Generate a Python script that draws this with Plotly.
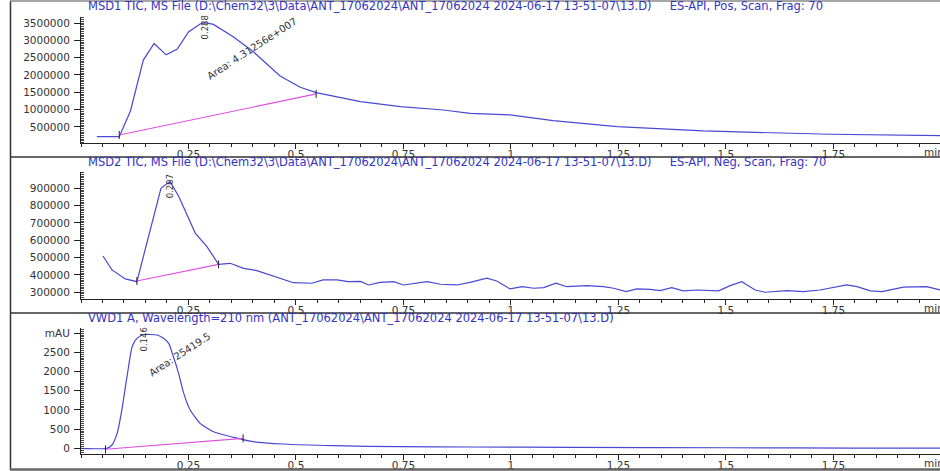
import plotly.graph_objects as go

# ---------------- data ----------------
# MSD1 TIC (positive)
msd1_t = [0.037, 0.089, 0.115, 0.145, 0.170, 0.198, 0.224, 0.250, 0.277, 0.288, 0.308, 0.354,
          0.401, 0.430, 0.463, 0.510, 0.547, 0.587, 0.650, 0.743, 0.843, 0.905, 0.998, 1.098,
          1.247, 1.447, 1.600, 1.743, 1.998]
msd1_v = [220000, 220000, 962000, 2430000, 2910000, 2580000, 2750000, 3240000, 3470000, 3510000,
          3460000, 3100000, 2670000, 2350000, 1970000, 1645000, 1490000, 1390000, 1230000, 1090000,
          990000, 895000, 850000, 682000, 510000, 385000, 340000, 290000, 250000]
msd1_base_t = [0.089, 0.547]
msd1_base_v = [269000, 1455000]

# MSD2 TIC (negative)
msd2_t = [0.051, 0.072, 0.103, 0.130, 0.186, 0.207, 0.228, 0.266, 0.293, 0.320, 0.347, 0.378,
          0.409, 0.456, 0.494, 0.537, 0.563, 0.595, 0.622, 0.650, 0.669, 0.696, 0.727, 0.750,
          0.781, 0.805, 0.836, 0.874, 0.905, 0.944, 0.967, 0.998, 1.026, 1.053, 1.076, 1.105,
          1.130, 1.177, 1.215, 1.239, 1.268, 1.293, 1.324, 1.347, 1.374, 1.401, 1.433, 1.483,
          1.510, 1.537, 1.568, 1.591, 1.642, 1.680, 1.719, 1.750, 1.781, 1.805, 1.836, 1.863,
          1.890, 1.913, 1.967, 1.998]
msd2_v = [509000, 429000, 377000, 361000, 900000, 940000, 850000, 640000, 563000, 461000, 467000,
          438000, 425000, 387000, 355000, 352000, 371000, 371000, 361000, 363000, 342000, 357000,
          361000, 342000, 355000, 361000, 346000, 342000, 357000, 381000, 365000, 319000, 332000,
          323000, 327000, 352000, 332000, 338000, 332000, 323000, 304000, 319000, 317000, 309000,
          327000, 308000, 313000, 308000, 338000, 361000, 313000, 300000, 309000, 304000, 313000,
          329000, 342000, 332000, 308000, 304000, 319000, 329000, 332000, 313000]
msd2_base_t = [0.130, 0.320]
msd2_base_v = [365000, 461000]

# VWD1 A, 210 nm
vwd_t = [0.0, 0.060, 0.072, 0.084, 0.095, 0.107, 0.119, 0.130, 0.146, 0.177, 0.192, 0.204, 0.215,
         0.227, 0.239, 0.254, 0.277, 0.308, 0.355, 0.401, 0.471, 0.587, 0.743, 0.905, 1.140,
         1.500, 1.800, 1.998]
vwd_v = [0, 0, 86, 390, 997, 1865, 2646, 2864, 2958, 2950, 2864, 2734, 2385, 1953, 1432, 997, 651,
         432, 286, 172, 112, 68, 42, 34, 26, 15, 5, 5]
vwd_base_t = [0.057, 0.377]
vwd_base_v = [-26, 260]

rt_labels = [0.288, 0.207, 0.146]
area_labels = ["Area: 4.31256e+007", None, "Area: 25419.5"]

titles = [
    "MSD1 TIC, MS File (D:\\Chem32\\3\\Data\\ANT_17062024\\ANT_17062024 2024-06-17 13-51-07\\13.D)"
    + "\u00a0" * 5 + "ES-API, Pos, Scan, Frag: 70",
    "MSD2 TIC, MS File (D:\\Chem32\\3\\Data\\ANT_17062024\\ANT_17062024 2024-06-17 13-51-07\\13.D)"
    + "\u00a0" * 5 + "ES-API, Neg, Scan, Frag: 70",
    "VWD1 A, Wavelength=210 nm (ANT_17062024\\ANT_17062024 2024-06-17 13-51-07\\13.D)",
]

x_tickvals = [0.25, 0.5, 0.75, 1.0, 1.25, 1.5, 1.75]
x_ticktext = ["0.25", "0.5", "0.75", "1", "1.25", "1.5", "1.75"]

y1_ticks = [500000, 1000000, 1500000, 2000000, 2500000, 3000000, 3500000]
y2_ticks = [300000, 400000, 500000, 600000, 700000, 800000, 900000]
y3_ticks = [0, 500, 1000, 1500, 2000, 2500, 3000]
y3_text = ["0", "500", "1000", "1500", "2000", "2500", "mAU"]

# ---------------- styling ----------------
W, H = 940, 471
LINE = "#4848d4"
BASE = "#e050e0"
TXT = "#333333"
TITLE_C = "#3434c4"
FONT = "DejaVu Sans"

def py(p):  # pixel row -> paper fraction
    return 1 - p / H

def px(p):
    return p / W

panels = [
    dict(t=msd1_t, v=msd1_v, bt=msd1_base_t, bv=msd1_base_v, top=17, bot=143, shape="linear",
         yr=[38000, 3673000], yt=y1_ticks, ytt=[str(v) for v in y1_ticks], ydm=50000, title_y=6),
    dict(t=msd2_t, v=msd2_v, bt=msd2_base_t, bv=msd2_base_v, top=172, bot=299, shape="linear",
         yr=[261000, 994000], yt=y2_ticks, ytt=[str(v) for v in y2_ticks], ydm=10000, title_y=162),
    dict(t=vwd_t, v=vwd_v, bt=vwd_base_t, bv=vwd_base_v, top=328, bot=454, shape="spline",
         yr=[-148, 3133], yt=y3_ticks, ytt=y3_text, ydm=50, title_y=318),
]

fig = go.Figure()
layout = dict(template="none", width=W, height=H, margin=dict(l=0, r=0, t=0, b=0, pad=0),
              paper_bgcolor="white", plot_bgcolor="white", showlegend=False,
              font=dict(family=FONT, size=10.5, color=TXT))
annotations = []
shapes = []

for i, p in enumerate(panels):
    n = "" if i == 0 else str(i + 1)
    xa, ya = "x" + n, "y" + n
    fig.add_trace(go.Scatter(x=p["t"], y=p["v"], mode="lines", xaxis=xa, yaxis=ya,
                             line=dict(color=LINE, width=1.2, shape=p["shape"], smoothing=0.6),
                             hoverinfo="skip"))
    fig.add_trace(go.Scatter(x=p["bt"], y=p["bv"], mode="lines", xaxis=xa, yaxis=ya,
                             line=dict(color=BASE, width=1.1), hoverinfo="skip"))
    # integration marks at baseline ends
    for bx, bv in zip(p["bt"], p["bv"]):
        shapes.append(dict(type="line", xref=xa, yref=ya, xsizemode="scaled", ysizemode="pixel",
                           yanchor=bv, x0=bx, x1=bx, y0=-4, y1=4,
                           line=dict(color="#222222", width=1)))
    layout["xaxis" + n] = dict(
        domain=[px(81), 1], range=[0, 1.998], anchor=ya, automargin=False,
        tickmode="array", tickvals=x_tickvals, ticktext=x_ticktext,
        ticks="outside", ticklen=5, tickcolor="#222", tickwidth=1, ticklabelstandoff=-4,
        minor=dict(tickmode="linear", tick0=0, dtick=0.05, ticks="outside", ticklen=3,
                   tickcolor="#222", tickwidth=1),
        showline=True, linecolor="#222", linewidth=1, showgrid=False, zeroline=False,
        tickfont=dict(family=FONT, size=10.5, color=TXT), fixedrange=True)
    layout["yaxis" + n] = dict(
        domain=[py(p["bot"]), py(p["top"])], range=p["yr"], anchor=xa, automargin=False,
        tickmode="array", tickvals=p["yt"], ticktext=p["ytt"],
        ticks="outside", ticklen=6, tickcolor="#222", tickwidth=1, ticklabelstandoff=2,
        minor=dict(tickmode="linear", tick0=0, dtick=p["ydm"], ticks="inside", ticklen=3,
                   tickcolor="#444", tickwidth=1),
        showline=True, linecolor="#222", linewidth=1, showgrid=False, zeroline=False,
        tickfont=dict(family=FONT, size=10.5, color=TXT), fixedrange=True)
    # panel title
    annotations.append(dict(text=titles[i], xref="paper", yref="paper", x=px(86), y=py(p["title_y"]),
                            xanchor="left", yanchor="middle", showarrow=False,
                            font=dict(family=FONT, size=11.5, color=TITLE_C)))
    # "min" unit label (cut off at the right edge)
    annotations.append(dict(text="min", xref="paper", yref="paper", x=px(922), y=py(p["bot"] + 9),
                            xanchor="left", yanchor="middle", showarrow=False,
                            font=dict(family=FONT, size=10.5, color=TXT)))
    # retention time label
    rt = rt_labels[i]
    k = min(range(len(p["t"])), key=lambda j: abs(p["t"][j] - rt))
    annotations.append(dict(text=f"{rt:.3f}", xref=xa, yref=ya, x=rt, y=p["v"][k],
                            xanchor="center", yanchor="middle", yshift=-5, textangle=-90,
                            showarrow=False, font=dict(family=FONT, size=8.5, color=TXT)))

# area labels
annotations.append(dict(text=area_labels[0], xref="x", yref="y", x=0.398, y=2750000,
                        textangle=-33, showarrow=False, font=dict(family=FONT, size=10, color=TXT)))
annotations.append(dict(text=area_labels[2], xref="x3", yref="y3", x=0.229, y=2456,
                        textangle=-33, showarrow=False, font=dict(family=FONT, size=10, color=TXT)))

# frame and separators
FR = "#333333"
shapes += [
    dict(type="line", xref="paper", yref="paper", x0=px(10), x1=1, y0=py(157), y1=py(157),
         line=dict(color=FR, width=1.5)),
    dict(type="line", xref="paper", yref="paper", x0=px(10), x1=1, y0=py(313), y1=py(313),
         line=dict(color=FR, width=1.5)),
    dict(type="line", xref="paper", yref="paper", x0=px(10.5), x1=px(10.5), y0=py(1), y1=py(470),
         line=dict(color=FR, width=1.5)),
    dict(type="line", xref="paper", yref="paper", x0=px(10), x1=1, y0=py(469.5), y1=py(469.5),
         line=dict(color="#666666", width=2.5)),
    dict(type="line", xref="paper", yref="paper", x0=px(10), x1=1, y0=py(1), y1=py(1),
         line=dict(color="#888888", width=1.5)),
]

layout["annotations"] = annotations
layout["shapes"] = shapes
fig.update_layout(**layout)
fig.write_html("out.html", config={"displayModeBar": False},
               post_script="document.body.style.margin='0px';")
